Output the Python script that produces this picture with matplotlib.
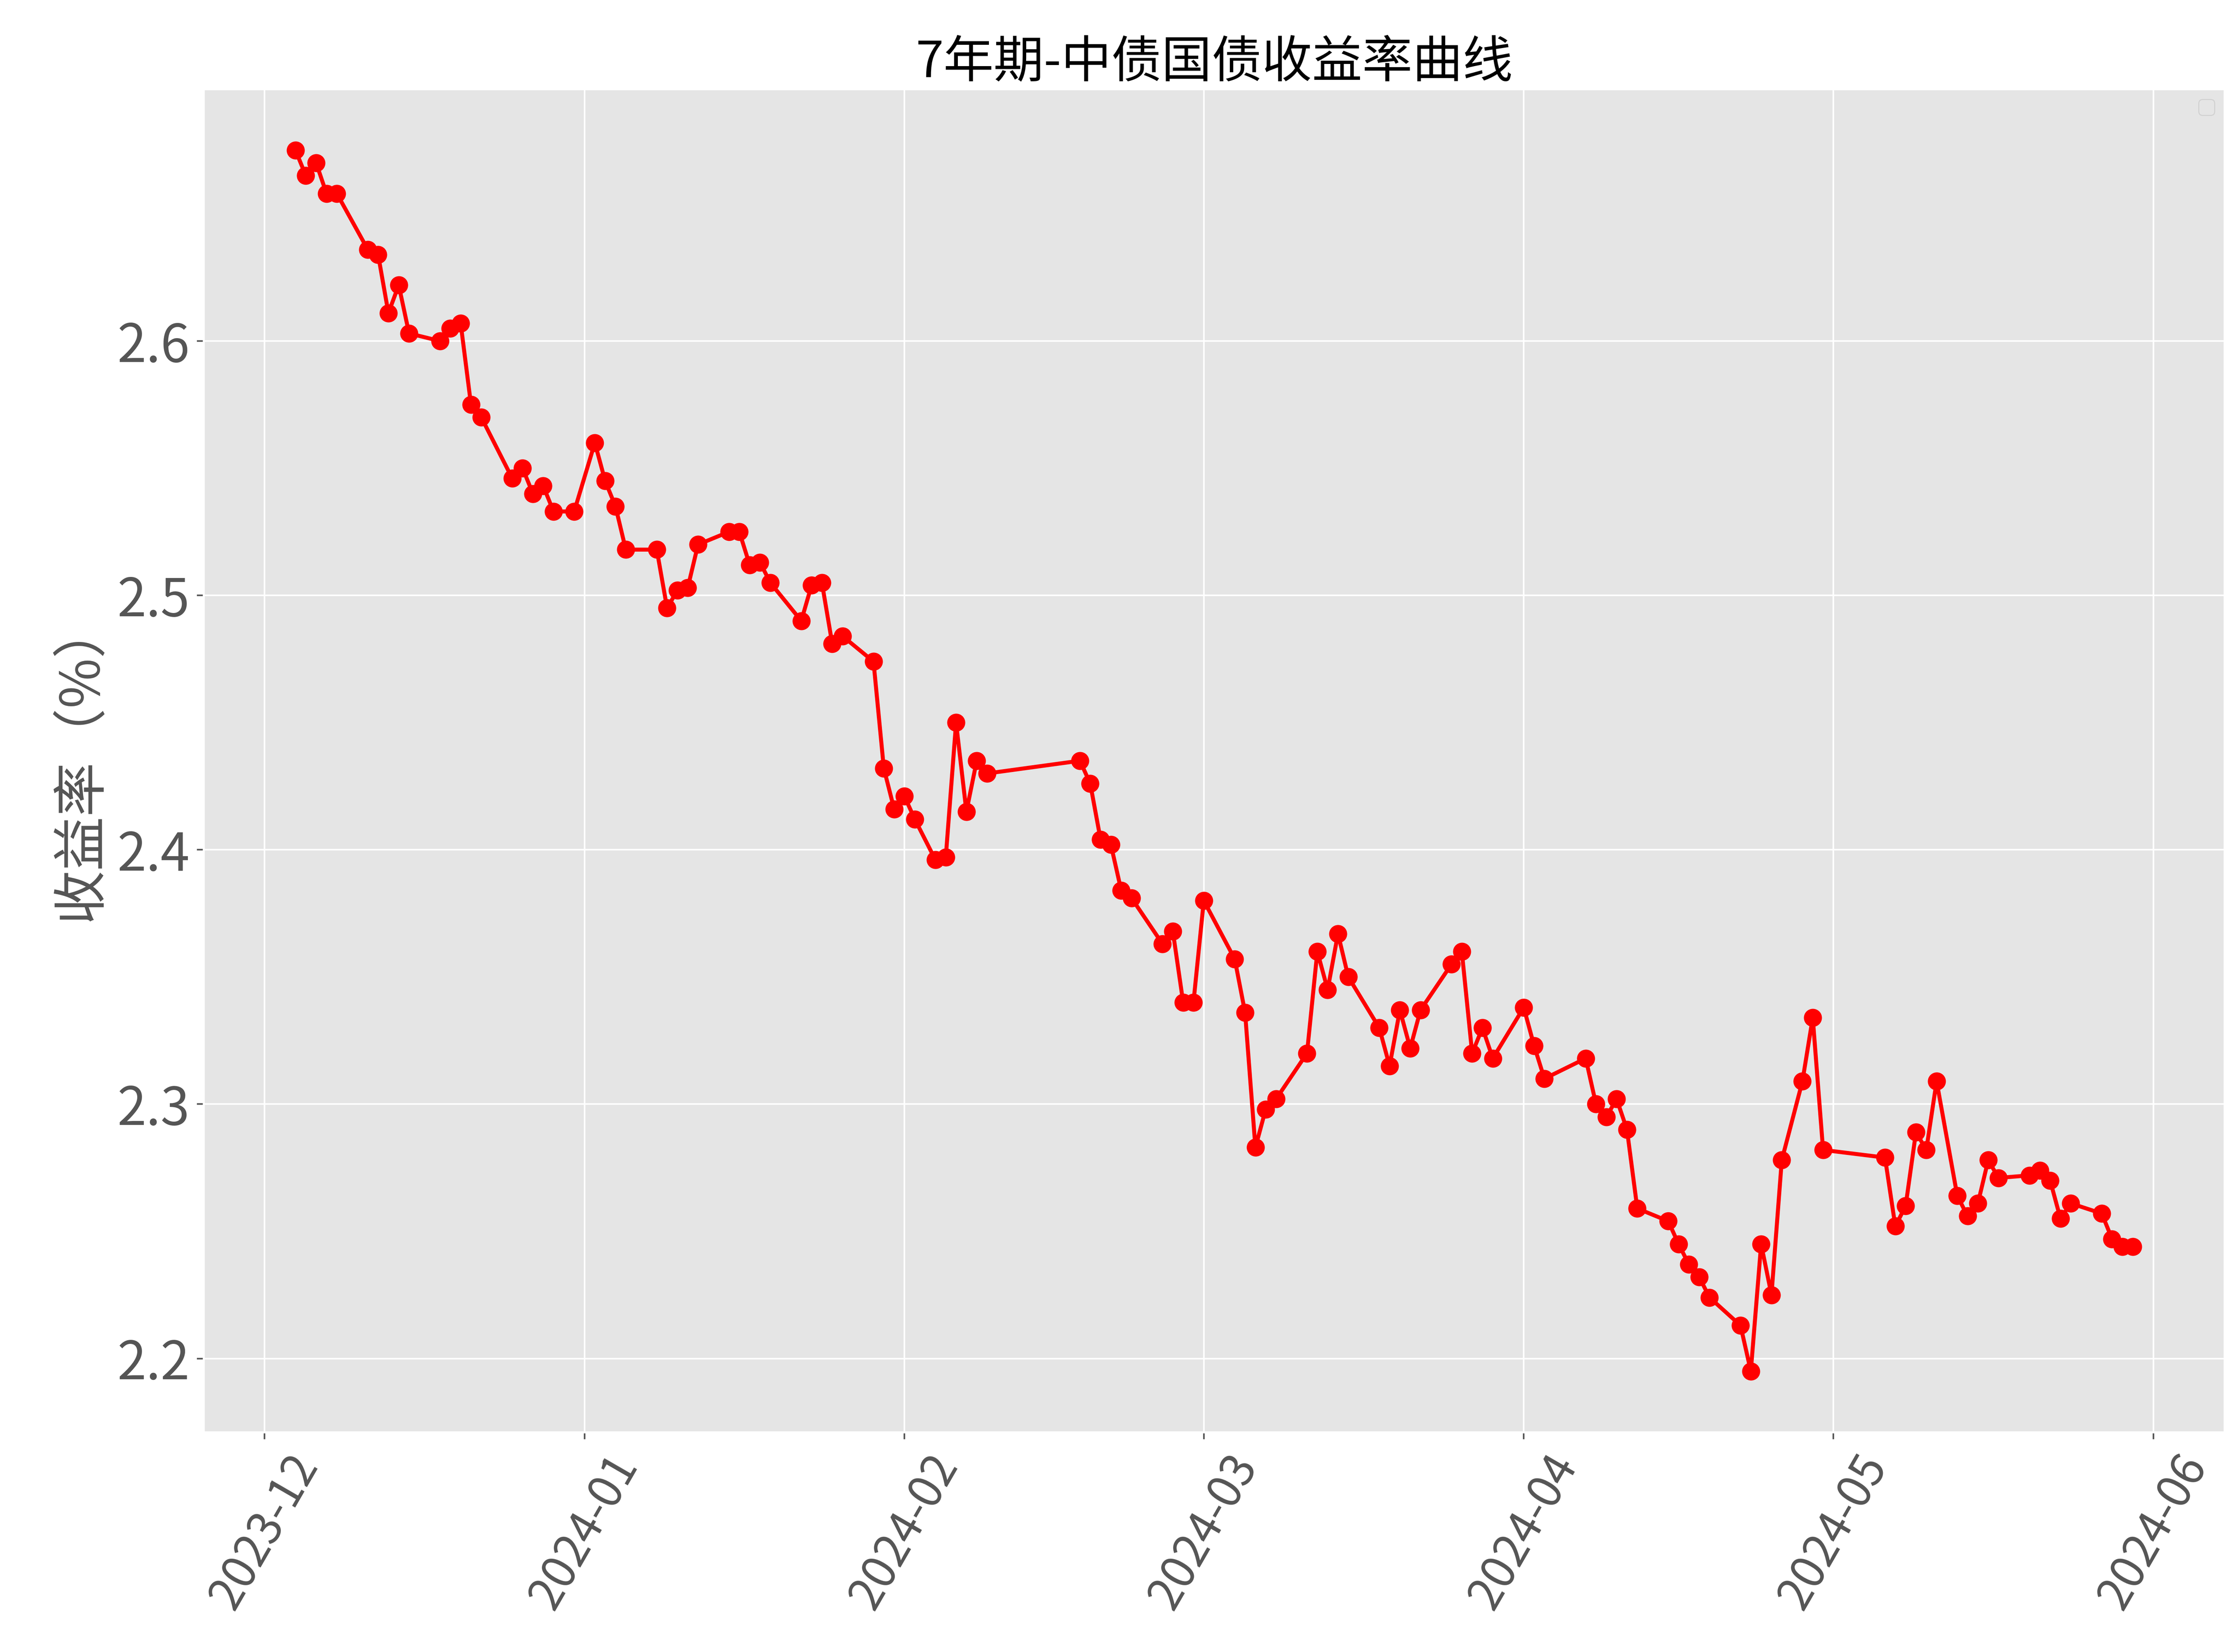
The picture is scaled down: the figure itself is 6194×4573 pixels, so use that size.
import matplotlib; matplotlib.use("Agg")
import matplotlib.pyplot as plt
import matplotlib.dates as mdates
import pandas as pd

plt.style.use("ggplot")
plt.rcParams["font.family"] = ["Noto Sans CJK SC", "DejaVu Sans"]
plt.rcParams["axes.unicode_minus"] = False

dates = ["2023-12-04","2023-12-05","2023-12-06","2023-12-07","2023-12-08",
 "2023-12-11","2023-12-12","2023-12-13","2023-12-14","2023-12-15",
 "2023-12-18","2023-12-19","2023-12-20","2023-12-21","2023-12-22",
 "2023-12-25","2023-12-26","2023-12-27","2023-12-28","2023-12-29","2023-12-31",
 "2024-01-02","2024-01-03","2024-01-04","2024-01-05",
 "2024-01-08","2024-01-09","2024-01-10","2024-01-11","2024-01-12",
 "2024-01-15","2024-01-16","2024-01-17","2024-01-18","2024-01-19",
 "2024-01-22","2024-01-23","2024-01-24","2024-01-25","2024-01-26",
 "2024-01-29","2024-01-30","2024-01-31","2024-02-01","2024-02-02",
 "2024-02-04","2024-02-05","2024-02-06","2024-02-07","2024-02-08","2024-02-09",
 "2024-02-18","2024-02-19","2024-02-20","2024-02-21","2024-02-22","2024-02-23",
 "2024-02-26","2024-02-27","2024-02-28","2024-02-29","2024-03-01",
 "2024-03-04","2024-03-05","2024-03-06","2024-03-07","2024-03-08",
 "2024-03-11","2024-03-12","2024-03-13","2024-03-14","2024-03-15",
 "2024-03-18","2024-03-19","2024-03-20","2024-03-21","2024-03-22",
 "2024-03-25","2024-03-26","2024-03-27","2024-03-28","2024-03-29",
 "2024-04-01","2024-04-02","2024-04-03",
 "2024-04-07","2024-04-08","2024-04-09","2024-04-10","2024-04-11","2024-04-12",
 "2024-04-15","2024-04-16","2024-04-17","2024-04-18","2024-04-19",
 "2024-04-22","2024-04-23","2024-04-24","2024-04-25","2024-04-26",
 "2024-04-28","2024-04-29","2024-04-30",
 "2024-05-06","2024-05-07","2024-05-08","2024-05-09","2024-05-10","2024-05-11",
 "2024-05-13","2024-05-14","2024-05-15","2024-05-16","2024-05-17",
 "2024-05-20","2024-05-21","2024-05-22","2024-05-23","2024-05-24",
 "2024-05-27","2024-05-28","2024-05-29","2024-05-30"]
yields = [2.675,2.665,2.670,2.658,2.658,
 2.636,2.634,2.611,2.622,2.603,
 2.600,2.605,2.607,2.575,2.570,
 2.546,2.550,2.540,2.543,2.533,2.533,
 2.560,2.545,2.535,2.518,
 2.518,2.495,2.502,2.503,2.520,
 2.525,2.525,2.512,2.513,2.505,
 2.490,2.504,2.505,2.481,2.484,
 2.474,2.432,2.416,2.421,2.412,
 2.396,2.397,2.450,2.415,2.435,2.430,
 2.435,2.426,2.404,2.402,2.384,2.381,
 2.363,2.368,2.340,2.340,2.380,
 2.357,2.336,2.283,2.298,2.302,
 2.320,2.360,2.345,2.367,2.350,
 2.330,2.315,2.337,2.322,2.337,
 2.355,2.360,2.320,2.330,2.318,
 2.338,2.323,2.310,
 2.318,2.300,2.295,2.302,2.290,2.259,
 2.254,2.245,2.237,2.232,2.224,
 2.213,2.195,2.245,2.225,2.278,
 2.309,2.334,2.282,
 2.279,2.252,2.260,2.289,2.282,2.309,
 2.264,2.256,2.261,2.278,2.271,
 2.272,2.274,2.270,2.255,2.261,
 2.257,2.247,2.244,2.244]

x = pd.to_datetime(dates)
fig, ax = plt.subplots(figsize=(15.485, 11.4325))
fig.subplots_adjust(left=0.091, right=0.994, top=0.946, bottom=0.133)
ax.plot(x, yields, color="red", marker="o", markersize=8, linewidth=2)
ax.set_title("7年期-中债国债收益率曲线", fontsize=25)
ax.set_ylabel("收益率（%）", fontsize=27)
ax.xaxis.set_major_locator(mdates.MonthLocator())
ax.xaxis.set_major_formatter(mdates.DateFormatter("%Y-%m"))
ax.set_ylim(2.171, 2.699)
ax.set_yticks([2.2, 2.3, 2.4, 2.5, 2.6])
ax.tick_params(axis="y", labelsize=26)
ax.tick_params(axis="x", labelsize=23)
plt.setp(ax.get_xticklabels(), rotation=60)
ax.legend(loc="upper right")
fig.savefig("out.png", dpi=400)
